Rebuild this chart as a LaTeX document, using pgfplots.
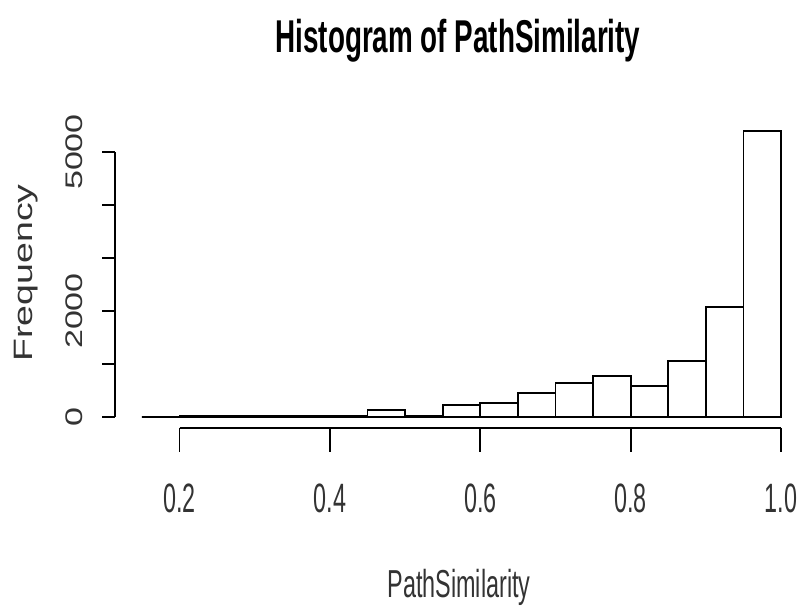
\documentclass[border=0pt]{standalone}
\usepackage{pgfplots}
\pgfplotsset{compat=1.18}
\usepackage{fontspec}
\setmainfont{Liberation Sans}
\newcommand{\xt}[1]{\scalebox{0.57}[1]{\fontsize{20.5}{20.5}\selectfont #1}}
\newcommand{\yt}[1]{\scalebox{1.42}[1]{\fontsize{12}{12}\selectfont #1}}
\begin{document}
\begin{tikzpicture}
\path[use as bounding box] (-57.5pt,-92.5pt) rectangle (345.5pt,214pt);
\begin{axis}[
  at={(0pt,0pt)}, anchor=south west,
  scale only axis, width=345.5pt, height=154.5pt,
  xmin=0.1142, xmax=1.0332, ymin=-207.5, ymax=5623,
  axis x line*=bottom, axis y line*=left,
  axis line style={draw=none},
  clip=false,
  xtick={0.2,0.4,0.6,0.8,1.0},
  xticklabels={\xt{0.2},\xt{0.4},\xt{0.6},\xt{0.8},\xt{1.0}},
  ytick={0,1000,2000,3000,4000,5000},
  yticklabels={\yt{0},,\yt{2000},,,\yt{5000}},
  tick align=outside,
  major tick length=6.5pt,
  tick style={black, line width=0.9pt},
  xtick style={draw=none},
  xticklabel shift=17.7pt,
  xticklabel style={anchor=north, text=black!80},
  yticklabel style={rotate=90, anchor=south, yshift=6pt, text=black!80},
]
\addplot[ybar interval, draw=black, fill=white, line width=0.9pt] coordinates {
(0.15,0) (0.2,25) (0.25,22) (0.3,22) (0.35,25) (0.4,30) (0.45,130) (0.5,28)
(0.55,230) (0.6,270) (0.65,450) (0.7,640) (0.75,770) (0.8,590) (0.85,1055)
(0.9,2070) (0.95,5400) (1.0,5400)};
\draw[line width=1pt] (axis cs:0.2,-207.5) -- (axis cs:1.0,-207.5);
\draw[line width=1pt] (axis cs:0.1142,0) -- (axis cs:0.1142,5000);
\draw[line width=0.9pt] (axis cs:0.2,-207.5) -- ++(0pt,-12pt);
\draw[line width=0.9pt] (axis cs:0.4,-207.5) -- ++(0pt,-12pt);
\draw[line width=0.9pt] (axis cs:0.6,-207.5) -- ++(0pt,-12pt);
\draw[line width=0.9pt] (axis cs:0.8,-207.5) -- ++(0pt,-12pt);
\draw[line width=0.9pt] (axis cs:1.0,-207.5) -- ++(0pt,-12pt);
\end{axis}
\node at (171.5pt,193.5pt) {\scalebox{0.605}[1]{\fontsize{23}{23}\selectfont\bfseries Histogram of PathSimilarity}};
\node[text=black!80] at (172pt,-79.5pt) {\scalebox{0.6}[1]{\fontsize{19.5}{19.5}\selectfont PathSimilarity}};
\node[rotate=90, text=black!80] at (-44.5pt,77.5pt) {\scalebox{1.41}[1]{\fontsize{13.3}{13.3}\selectfont Frequency}};
\end{tikzpicture}
\end{document}
